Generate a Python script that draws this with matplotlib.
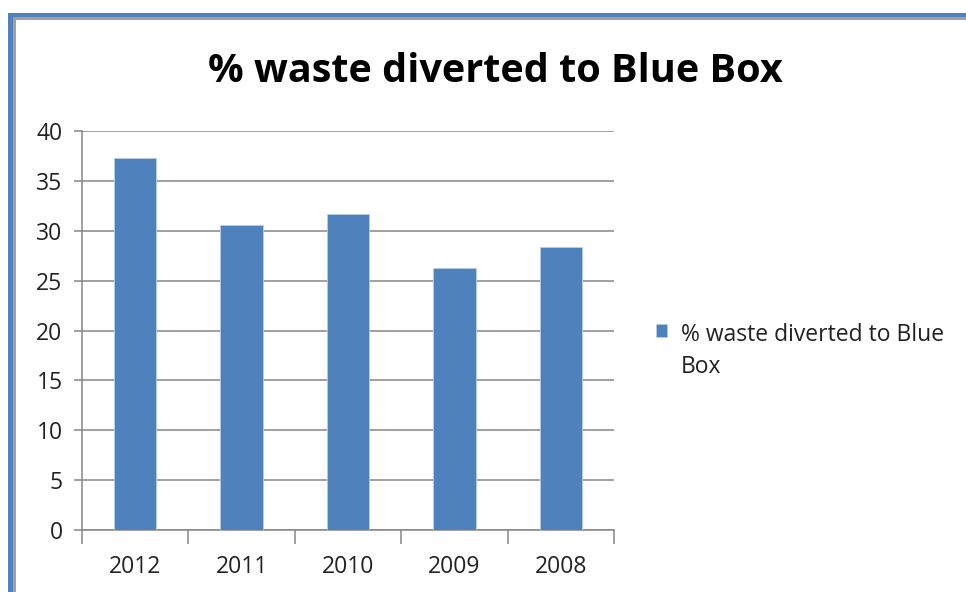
#!/usr/bin/env python3
from matplotlib import pyplot as plt
from matplotlib.patches import Rectangle
import numpy as np

years  = ['2012', '2011', '2010', '2009', '2008']
values = [37.3, 30.6, 31.7, 26.3, 28.4]
series = '% waste diverted to Blue\nBox'
title  = '% waste diverted to Blue Box'

blue = '#4F81BD'
grid = '#868686'

plt.rcParams['font.family'] = ['Open Sans', 'DejaVu Sans']

W, H = 966, 592
fig = plt.figure(figsize=(W/100, H/100), dpi=100)

def px_rect(x, y, w, h, color):
    # rectangle given in pixel coords (y from top)
    fig.add_artist(Rectangle((x/W, 1-(y+h)/H), w/W, h/H,
                             transform=fig.transFigure, color=color, lw=0))

# frame round the chart
px_rect(8, 13, W-8, 4.5, blue)
px_rect(13, 17.5, W-13, 2.5, '#A0A0A0')
px_rect(8, 13, 5, H-13, blue)
px_rect(13, 17.5, 2.5, H-17.5, '#A0A0A0')

ax = fig.add_axes([82/W, 1-530/H, (614-82)/W, (530-131)/H])

x = np.arange(len(years))
ax.bar(x, values, width=0.4, color=blue, edgecolor='#B9CDE5', linewidth=0.6,
       label=series, zorder=3)

ax.set_xlim(-0.5, len(years)-0.5)
ax.set_ylim(0, 40)
ax.set_yticks(np.arange(0, 41, 5))
ax.yaxis.grid(True, color=grid, linewidth=1.1, zorder=0)

ax.set_xticks(x)
ax.set_xticklabels(years)
ax.set_xticks(np.arange(-0.5, len(years), 1), minor=True)
ax.tick_params(axis='x', which='major', length=0, pad=18, labelsize=16.5,
               labelcolor='#222222')
ax.tick_params(axis='x', which='minor', length=10, color=grid, width=1.1)
ax.tick_params(axis='y', length=6, color=grid, width=1.1, pad=8, labelsize=16.5,
               labelcolor='#222222')

for s in ['top', 'right']:
    ax.spines[s].set_visible(False)
for s in ['left', 'bottom']:
    ax.spines[s].set_color(grid)
    ax.spines[s].set_linewidth(1.1)

fig.text(495/W, 1-72/H, title, ha='center', va='center',
         fontsize=28.5, fontweight='bold')

leg = fig.legend(loc='upper left', bbox_to_anchor=(656/W, 1-323/H), frameon=False,
                 fontsize=16.5, handlelength=0.5, handleheight=0.5,
                 handletextpad=0.6, borderaxespad=0, borderpad=0)
for t in leg.get_texts():
    t.set_linespacing(1.45)
    t.set_color('#222222')
# put the square level with the first line of the label
h = leg.legend_handles[0]
h.set_y(h.get_y() + 15.5)

fig.savefig('out.png', dpi=100)
